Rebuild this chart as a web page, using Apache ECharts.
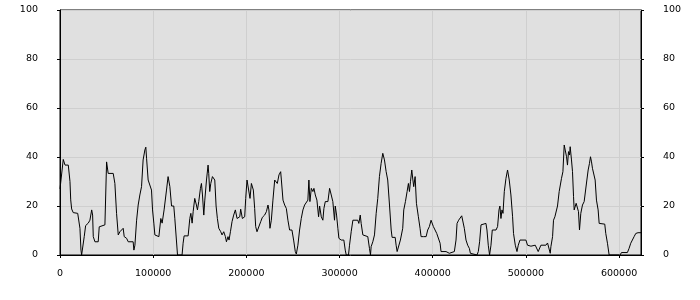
<!DOCTYPE html>
<html>
<head>
<meta charset="utf-8">
<script src="https://cdn.jsdelivr.net/npm/echarts@6/dist/echarts.min.js"></script>
<style>html,body{margin:0;padding:0;background:#fff}#c{width:700px;height:300px}</style>
</head>
<body>
<div id="c"></div>
<script>
var xValues = [0,3500,5400,8900,10700,11500,12500,14200,19000,19600,21400,22500,23200,24300,26000,27500,30300,32100,34000,35000,35700,37500,41000,42100,43600,48200,50000,51700,57100,58900,60700,62500,64300,66100,67800,68900,71500,73200,78500,79300,80400,82200,83900,85700,87500,89200,91100,92100,92900,94600,98200,99300,100700,101800,106100,108200,109600,111700,114300,116000,117900,119700,122100,123200,126100,
131000,132100,133200,137500,139300,140400,141800,142900,144600,146400,147500,148900,150700,151800,152900,154300,155400,157200,158900,159600,160700,161800,163600,165300,166100,167500,168900,170400,172500,173900,175700,177500,178600,180300,181400,182900,184600,186400,188200,190000,191000,192900,193900,195700,198200,199300,200700,202500,203900,205400,207500,208900,210000,211400,213200,215400,217200,219600,221500,223200,224200,225300,226800,228500,230400,232200,233200,235000,236800,237500,239300,241100,242900,244600,246400,248900,250700,252500,253600,255300,
257100,258900,260700,262500,264300,266000,267100,268200,269700,271400,272500,274000,275700,277500,278600,280400,282100,283200,284700,287500,289300,291100,292800,294600,295400,296800,298200,299300,301800,304600,306100,307200,309600,310700,312500,314300,319600,320700,322200,323200,325000,326800,330300,332100,333200,333900,335700,337500,339300,341000,342800,344600,346400,348200,350000,351700,353600,355400,356400,359700,360700,361800,363500,365300,367800,368900,370700,372500,373900,375000,376100,377500,378600,379600,381100,382500,
384600,386400,387500,390000,391100,392900,394600,396400,398200,399300,400700,402500,404300,406400,407900,408900,414300,417800,419700,423200,425000,426100,427800,429300,431100,432900,433900,435700,437500,439300,440400,441800,447500,448900,450300,451800,453600,457100,458200,459600,461000,462500,463900,467900,469600,471100,472100,473200,474300,475400,476800,478600,480300,481400,482100,483900,485700,486700,488600,490400,491800,493600,500000,501700,505400,506400,510000,
513200,514300,516100,521400,523200,525000,526100,526800,528600,529600,531100,532100,533900,535700,536800,538200,539700,541100,542500,543600,544600,545700,546800,547500,548900,550000,551100,551800,552900,553900,555300,556400,557500,558900,560700,562500,564300,565400,566800,568200,569300,570400,571400,573200,574300,575700,577500,578600,584600,585700,587500,589300,601100,602500,608900,610700,612500,614300,616100,617900,620300,623500];
var yValues = [27,39,36.7,36.7,30,22.5,18.8,17.3,17,16.3,10.9,2,0,0,7.5,12,13,14.2,18.4,16.3,7.5,5.4,5.4,11.5,12.3,12.3,38,33.3,33.3,29.2,17,8.2,9.5,8.8,10.9,7.5,6.8,5.4,5.4,2,4,14.2,20.4,24.5,27.9,38.8,42.9,44,39.5,30.6,26.5,18.4,13,8.2,7.5,14.9,13,18.4,26.5,32,27.9,20,20,15,0,
0,4.8,7.8,7.8,14.9,17,13,17.7,23.1,20.4,18.4,21.8,27.2,29.2,24.5,16.3,22.4,30.6,36.7,33.3,25.9,29.2,32,32,30.6,20,14.9,10.9,9.5,8.2,9.5,7.5,5.4,7.5,6.1,9.5,13.6,16.3,18.4,14.9,14.9,15.6,18.7,14.9,15.6,23.1,30.6,29.9,23.1,29.2,26.5,19,11.6,9.5,10.2,13.6,15.4,16.3,17.7,20.4,18.4,10.9,14.2,22.4,30.6,31.3,29.2,32.7,34,31,22.4,20.4,19,14.2,10.2,10.2,6.1,1.4,0.4,4,
10.2,14.9,18.4,20.4,21.1,22.4,30.6,21.8,27.2,25.9,27.2,24.5,22.4,15.6,20,15.6,14.2,19,21.8,21.8,27.2,24.5,21.8,14.2,20,16.3,10.9,6.8,6.1,6.1,2,0,0,4,9.5,14.2,14.2,12.9,16.3,12.9,8.2,8.2,7.5,2.7,0,3.4,5.4,8.2,17,23.1,32,37.4,41.5,38.8,34,30.6,20.4,10.2,7.2,7.2,4,1.4,1.4,6.1,10.9,18.4,21.8,25.9,29.2,25.9,29.9,34.7,31,27.9,32,21.1,
15.6,10.9,7.5,7.5,8.2,7.5,10.2,11.6,14.2,14.9,11.6,11.6,8.8,8.2,4.8,1.4,1.4,0.7,1.4,1.4,6.1,12.9,14.2,13.6,16,16,10.9,6.1,4,2.7,0.7,0,0,1.4,5.4,12.3,12.9,12.9,10.2,4,0,4,10.2,10.2,11.6,18.4,20,14.9,18.4,17,25.9,31.3,34.7,34,30.6,24.5,15.6,8.8,4,1.4,4,6.1,6.1,4,3.6,4,4,
1.4,1.4,4,4,4.9,4.6,0.7,3.4,7.5,14.2,15.6,16.3,20,25.9,26.5,31.3,34,44.9,44.2,40.1,36.7,42.2,40.8,44.2,38.8,34,23.8,18.4,17.7,21.1,21.8,17.7,10.2,17,20.4,21.8,21.8,30.6,34.7,37.4,40.1,38,35.4,35.4,30.6,22.4,18.4,12.9,12.6,8.8,4.8,0,0,1,1,2.7,4.8,5.5,7.5,8.8,9.1,9.1];
var xTicks = [0,100000,200000,300000,400000,500000,600000];
var yTicks = [0,20,40,60,80,100];

var points = xValues.map(function(x,i){return [x,yValues[i]];});
var font = 'DejaVu Sans';
var yAxisCommon = {
  type:'value', min:yTicks[0], max:yTicks[yTicks.length-1], interval:20,
  axisLine:{show:true,lineStyle:{color:'#000',width:1}},
  axisTick:{show:true,length:3,lineStyle:{color:'#000'}},
  axisLabel:{color:'#000',fontFamily:font,fontSize:9.5,margin:22}
};
var chart = echarts.init(document.getElementById('c'),null,{renderer:'canvas'});
chart.setOption({
  animation:false,
  grid:{left:60,top:10,width:581,height:245,show:true,backgroundColor:'#e0e0e0',borderColor:'#000',borderWidth:1,containLabel:false},
  xAxis:{
    type:'value', min:0, max:623500, interval:100000,
    axisLine:{show:true,onZero:false,lineStyle:{color:'#000',width:1}},
    axisTick:{show:true,length:3,lineStyle:{color:'#000'}},
    axisLabel:{color:'#000',fontFamily:font,fontSize:9.5,margin:14,showMaxLabel:false,
      formatter:function(v){return xTicks.indexOf(v)>=0?String(v):'';}},
    splitLine:{show:true,lineStyle:{color:'#cfcfcf',width:1}}
  },
  yAxis:[
    Object.assign({},yAxisCommon,{position:'left',splitLine:{show:true,lineStyle:{color:'#cfcfcf',width:1}}}),
    Object.assign({},yAxisCommon,{position:'right',splitLine:{show:false}})
  ],
  series:[{
    type:'line', data:points, yAxisIndex:0, showSymbol:false, symbol:'none',
    lineStyle:{color:'#000',width:1}, clip:true
  }]
});
</script>
</body>
</html>
